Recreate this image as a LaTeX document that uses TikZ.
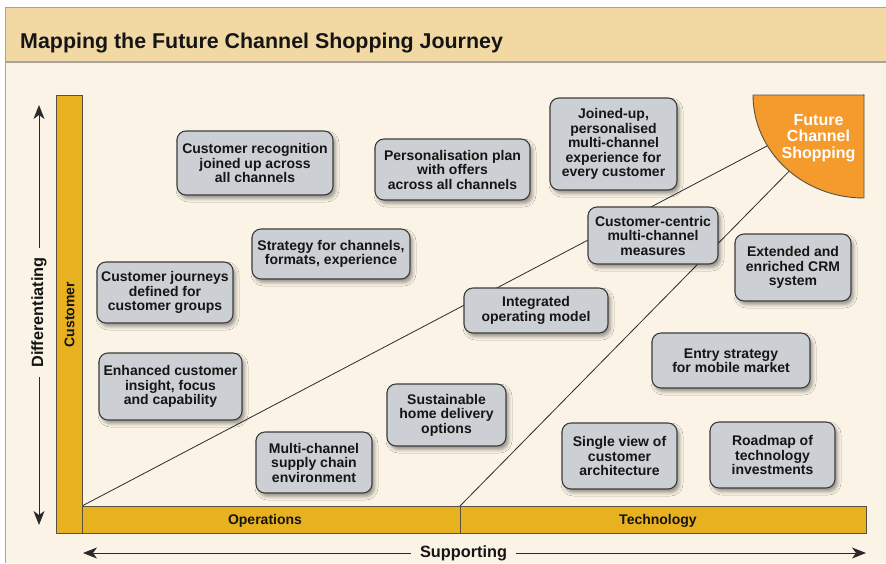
\documentclass[tikz,border=0pt]{standalone}
\usepackage{fontspec}
\setmainfont{Liberation Sans}
\usetikzlibrary{arrows.meta,shadows.blur}

\definecolor{paper}{HTML}{FBF4E6}
\definecolor{headband}{HTML}{F2D9A4}
\definecolor{framegray}{HTML}{A8A49C}
\definecolor{gold}{HTML}{E7B11F}
\definecolor{bandline}{HTML}{5A5040}
\definecolor{hubfill}{HTML}{F59B2E}
\definecolor{cardfill}{HTML}{CCCFD3}
\definecolor{cardline}{HTML}{3C3C3C}
\definecolor{ink}{HTML}{151515}
\definecolor{axisgray}{HTML}{2A2A2A}

\tikzset{
  card/.style={draw=cardline, line width=1.1pt, fill=cardfill, rounded corners=9pt,
    align=center, inner sep=0pt, text=ink,
    font=\bfseries\fontsize{14}{14.5}\selectfont,
    blur shadow={shadow xshift=2.5pt, shadow yshift=-3.5pt, shadow blur radius=3.5pt, shadow opacity=40}},
  band/.style={draw=bandline, line width=0.8pt, fill=gold, inner sep=0pt, anchor=north west},
  bandlabel/.style={font=\bfseries\fontsize{14}{16}\selectfont, text=ink},
  axislabel/.style={font=\bfseries\fontsize{16.3}{18}\selectfont, text=ink, inner xsep=9pt, inner ysep=0pt},
  axis/.style={draw=axisgray, line width=1pt, -{Stealth[length=14pt,width=11pt,inset=4pt]}},
  ray/.style={draw=axisgray, line width=0.8pt},
}

\begin{document}
\begin{tikzpicture}[x=1pt,y=-1pt]
  \useasboundingbox (0,0) rectangle (886,563);
  % page, header band and frame
  \fill[white] (0,0) rectangle (886,563);
  \fill[paper] (5,62) rectangle (886,563);
  \fill[headband] (5,7) rectangle (886,62);
  \draw[framegray, line width=1pt] (5.5,563) -- (5.5,7.5) -- (886,7.5);
  \draw[framegray, line width=1.2pt] (5.5,62) -- (886,62);
  \node[anchor=base west, font=\bfseries\fontsize{21.4}{24}\selectfont, text=ink, inner sep=0pt]
    (title) at (20,48) {Mapping the Future Channel Shopping Journey};

  % key points of the map
  \coordinate (origin) at (82,506);
  \coordinate (split) at (460,506);
  \coordinate (hub) at (864,95);

  % rays towards the future channel hub
  \draw[ray] (origin) -- (hub);
  \draw[ray] (split) -- (hub);

  % future channel shopping quadrant
  \filldraw[fill=hubfill, draw=bandline, line width=0.9pt]
    (hub) -- ++(-111,0) arc[start angle=180, end angle=90, x radius=111, y radius=103] -- cycle;
  \node[align=center, font=\bfseries\fontsize{16}{16.5}\selectfont, text=white, inner sep=0pt]
    (futurelab) at (818.5,138) {Future\\Channel\\Shopping};

  % axis bands
  \node[band, minimum width=26pt, minimum height=438pt] (custbar) at (56,95) {};
  \node[band, minimum width=378pt, minimum height=27pt] (opsbar) at (82,506) {};
  \node[band, minimum width=406pt, minimum height=27pt] (techbar) at (460,506) {};
  \node[bandlabel, rotate=90] (custlab) at (69.5,314.5) {Customer};
  \node[bandlabel] (opslab) at (265,520.5) {Operations};
  \node[bandlabel] (techlab) at (658,520.5) {Technology};

  % axes
  \node[axislabel, rotate=90] (diff) at (39,312.5) {Differentiating};
  \coordinate (diffhi) at (39,105);
  \coordinate (difflo) at (39,525);
  \draw[axis] (diff.east) -- (diffhi);
  \draw[axis] (diff.west) -- (difflo);
  \node[axislabel] (supp) at (463.5,553) {Supporting};
  \coordinate (supplo) at (83,553);
  \coordinate (supphi) at (866,553);
  \draw[axis] (supp.west) -- (supplo);
  \draw[axis] (supp.east) -- (supphi);

  % initiatives
  \node[card, minimum width=156pt, minimum height=64pt] (recog) at (255,163)
    {Customer recognition\\joined up across\\all channels};
  \node[card, minimum width=155pt, minimum height=61pt] (perso) at (452.5,169.5)
    {Personalisation plan\\with offers\\across all channels};
  \node[card, minimum width=127pt, minimum height=92pt] (joined) at (613.5,144)
    {Joined-up,\\personalised\\multi-channel\\experience for\\every customer};
  \node[card, minimum width=130pt, minimum height=57pt] (measures) at (653,235.5)
    {Customer-centric\\multi-channel\\measures};
  \node[card, minimum width=116pt, minimum height=67pt] (crm) at (793,267.5)
    {Extended and\\enriched CRM\\system};
  \node[card, minimum width=158pt, minimum height=50pt] (strategy) at (331,254)
    {Strategy for channels,\\formats, experience};
  \node[card, minimum width=136pt, minimum height=61pt] (journeys) at (165,292.5)
    {Customer journeys\\defined for\\customer groups};
  \node[card, minimum width=144pt, minimum height=45pt] (integrated) at (536,310.5)
    {Integrated\\operating model};
  \node[card, minimum width=158pt, minimum height=55pt] (mobile) at (731,360.5)
    {Entry strategy\\for mobile market};
  \node[card, minimum width=143pt, minimum height=67pt] (insight) at (170.5,386.5)
    {Enhanced customer\\insight, focus\\and capability};
  \node[card, minimum width=119pt, minimum height=62pt] (delivery) at (446.5,415)
    {Sustainable\\home delivery\\options};
  \node[card, minimum width=116pt, minimum height=61pt] (supply) at (314,462.5)
    {Multi-channel\\supply chain\\environment};
  \node[card, minimum width=115pt, minimum height=66pt] (singleview) at (619.5,456)
    {Single view of\\customer\\architecture};
  \node[card, minimum width=125pt, minimum height=66pt] (roadmap) at (772.5,455)
    {Roadmap of\\technology\\investments};
\end{tikzpicture}
\end{document}
